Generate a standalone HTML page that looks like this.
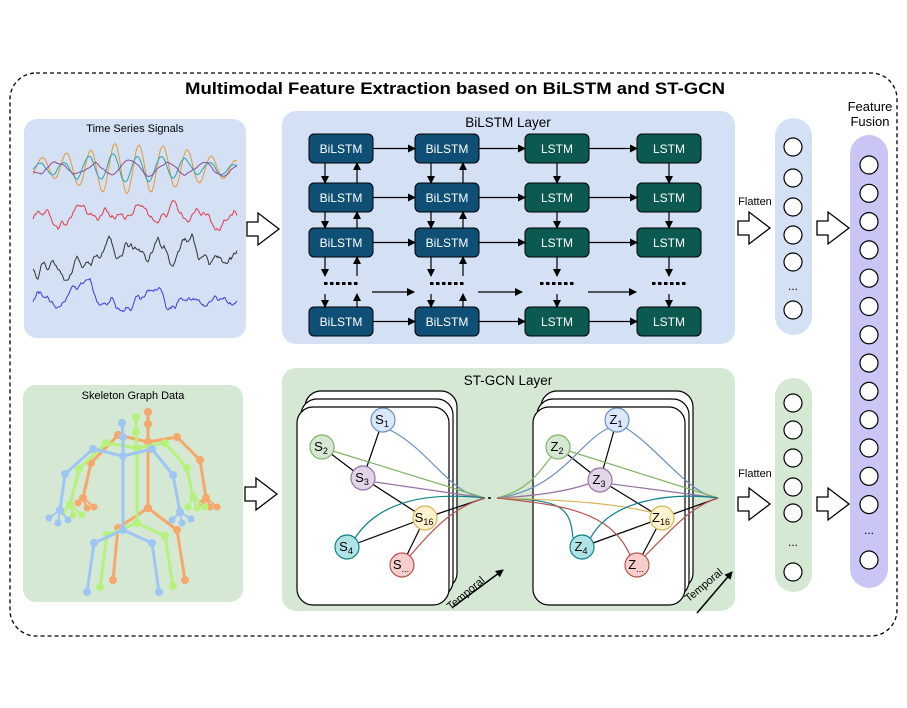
<!DOCTYPE html>
<html><head><meta charset="utf-8">
<style>
html,body{margin:0;padding:0;background:#fff;}
svg{display:block;font-family:"Liberation Sans",Arial,sans-serif;}
</style></head>
<body>
<svg id="s" width="907" height="708" viewBox="0 0 907 708" xmlns="http://www.w3.org/2000/svg">
<defs>
<marker id="ah" markerWidth="8" markerHeight="8" refX="7" refY="4" orient="auto" markerUnits="userSpaceOnUse">
<path d="M0,0 L8,4 L0,8 z" fill="#000"/></marker>
<g id="bigArrow"><path d="M0,9 L11,9 L11,0 L32,16 L11,32 L11,23 L0,23 z" fill="#fff" stroke="#000" stroke-width="1.3"/></g>
</defs>

<rect x="10" y="73" width="887" height="563" rx="26" fill="none" stroke="#000" stroke-width="1.3" stroke-dasharray="4,3"/>
<text x="455" y="94" font-size="17" font-weight="bold" text-anchor="middle" textLength="540" lengthAdjust="spacingAndGlyphs">Multimodal Feature Extraction based on BiLSTM and ST-GCN</text>

<rect x="24" y="119" width="222" height="219" rx="13" fill="#d4e1f5"/>
<text x="135" y="132" font-size="11" text-anchor="middle">Time Series Signals</text>
<g id="sig" fill="none" stroke-width="1"></g>

<rect x="23" y="385" width="220" height="217" rx="13" fill="#d5e8d4"/>
<text x="133" y="399" font-size="11" text-anchor="middle">Skeleton Graph Data</text>
<g id="skel"></g>

<use href="#bigArrow" x="247" y="213"/>
<use href="#bigArrow" x="245" y="478"/>
<use href="#bigArrow" x="738" y="212"/>
<use href="#bigArrow" x="738" y="488"/>
<use href="#bigArrow" x="817" y="212"/>
<use href="#bigArrow" x="817" y="488"/>
<text x="755" y="205" font-size="11" text-anchor="middle">Flatten</text>
<text x="755" y="477" font-size="11" text-anchor="middle">Flatten</text>

<rect x="282" y="111" width="453" height="233" rx="14" fill="#d4e1f5"/>
<text x="508" y="127" font-size="13.5" text-anchor="middle">BiLSTM Layer</text>
<g id="lstm"></g>

<rect x="282" y="368" width="453" height="243" rx="14" fill="#d5e8d4"/>
<text x="508" y="385" font-size="13.5" text-anchor="middle">ST-GCN Layer</text>
<g id="gcn"></g>

<rect x="775" y="118" width="37" height="217" rx="18.5" fill="#d4e1f5"/>
<rect x="775" y="378" width="37" height="214" rx="18.5" fill="#d5e8d4"/>
<rect x="850" y="135" width="38" height="453" rx="19" fill="#c9c6f6"/>
<text x="870" y="111" font-size="13" text-anchor="middle">Feature</text>
<text x="870" y="126" font-size="13" text-anchor="middle">Fusion</text>
<g id="cols" fill="#fff" stroke="#000" stroke-width="1.2"></g>
</svg>
<script>
var NS="http://www.w3.org/2000/svg";
function el(p,t,a,txt){var e=document.createElementNS(NS,t);for(var k in a)e.setAttribute(k,a[k]);if(txt!==undefined)e.textContent=txt;p.appendChild(e);return e;}
var S=document.getElementById('s');
var C=document.getElementById('cols');
[147,178,207,235,262,310].forEach(function(y){el(C,'circle',{cx:793,cy:y,r:9});});
[403,430,458,487,513,572].forEach(function(y){el(C,'circle',{cx:793,cy:y,r:9});});
for(var i=0;i<13;i++)el(C,'circle',{cx:869,cy:165+28.3*i,r:9});
el(C,'circle',{cx:869,cy:560,r:9});
el(S,'text',{x:793,y:290,'font-size':12,'text-anchor':'middle'},'...');
el(S,'text',{x:793,y:546,'font-size':12,'text-anchor':'middle'},'...');
el(S,'text',{x:869,y:534,'font-size':12,'text-anchor':'middle'},'...');
var seed=11;function rnd(){seed=(seed*16807)%2147483647;return seed/2147483647;}
var G=document.getElementById('sig');
function sig(col,base,amp,freq,noise,w,env){var d='',v=0,t=0;for(var x=33;x<=237;x+=1){t=t*0.85+(rnd()-0.5)*noise;v=v*0.7+t*0.3;var e=env?(0.35+0.65*Math.pow(Math.sin((x-33)/204*Math.PI),1.5)):1;var y=base+amp*e*Math.sin(x*freq+w)+v*4;d+=(x==33?'M':'L')+x+','+y.toFixed(1);}el(G,'path',{d:d,stroke:col});}
sig('#e8972e',168,24,0.26,0.6,0,1);sig('#2ba3b0',168,13,0.26,0.8,0.5,1);sig('#8e4a8e',168,6,0.17,1,1.5,0);
sig('#e23b4a',217,5,0.2,4,2,0);sig('#333',260,8,0.22,5,1,0);sig('#3a3ee0',300,6,0.18,4,3,0);
var L=document.getElementById('lstm');
var cols=[309,415,525,637],rows=[134,183,228,307],W=64,H=29;
function blk(x,y,t,c){el(L,'rect',{x:x,y:y,width:W,height:H,rx:5,fill:c,stroke:'#000','stroke-width':1});el(L,'text',{x:x+W/2,y:y+H/2+4.5,'font-size':12,fill:'#fff','text-anchor':'middle'},t);}
function ln(x1,y1,x2,y2){el(L,'line',{x1:x1,y1:y1,x2:x2,y2:y2,stroke:'#000','stroke-width':1.2,'marker-end':'url(#ah)'});}
rows.forEach(function(y){
 for(var c=0;c<4;c++)blk(cols[c],y,c<2?'BiLSTM':'LSTM',c<2?'#0f4f76':'#0c5a4f');
 for(var c=0;c<3;c++)ln(cols[c]+W,y+H/2,cols[c+1],y+H/2);
});
ln(372,292,414,292);ln(478,292,522,292);ln(588,292,636,292);
cols.forEach(function(x){for(var k=0;k<6;k++)el(L,'rect',{x:x+15+k*6,y:282,width:3.5,height:3,fill:'#000'});});
var segs=[[163,183],[212,228],[257,276],[294,307]];
[0,1].forEach(function(c){var dx=cols[c]+16,ux=cols[c]+48;segs.forEach(function(s){ln(dx,s[0],dx,s[1]);ln(ux,s[1],ux,s[0]);});});
[2,3].forEach(function(c){var x=cols[c]+W/2;segs.forEach(function(s){ln(x,s[0],x,s[1]);});});
var Gc=document.getElementById('gcn');
function card(x){for(var k=2;k>=0;k--)el(Gc,'rect',{x:x+k*4,y:407-k*8,width:152,height:198,rx:16,fill:'#fff',stroke:'#000','stroke-width':1.2});}
card(297);card(533);
var cl={b:['#dae8fc','#6c8ebf'],g:['#d5e8d4','#82b366'],p:['#e1d5e7','#9673a6'],y:['#fff2cc','#d6b656'],t:['#b0e3e6','#0e8088'],r:['#f8cecc','#b85450']};
function P(d,c,w){el(Gc,'path',{d:d,fill:'none',stroke:c,'stroke-width':w||1.2});}
var c1=485,cy=498;
P('M383,420 L363,478 M322,447 L363,478 M363,478 L425,518 M347,547 L425,518 M402,565 L425,518 M425,518 L'+c1+','+cy,'#000');
P('M390,430 C430,450 450,495 '+c1+','+cy,cl.b[1]);
P('M333,451 L'+c1+','+cy,cl.g[1]);
P('M375,482 L'+c1+','+cy,cl.p[1]);
P('M355,538 C380,500 430,492 '+c1+','+cy,cl.t[1]);
P('M410,556 C440,520 460,505 '+c1+','+cy,cl.r[1]);
el(Gc,'line',{x1:488,y1:498,x2:491,y2:498,stroke:'#000','stroke-width':1.5});
var o=497,c2=718;
P('M617,420 L600,480 M558,447 L600,480 M600,480 L662,518 M582,547 L662,518 M637,565 L662,518 M662,518 L'+c2+','+cy,'#000');
P('M'+o+','+cy+' C530,490 540,470 552,456',cl.g[1]);
P('M'+o+','+cy+' C560,490 580,440 609,428',cl.b[1]);
P('M'+o+','+cy+' C540,496 570,490 588,484',cl.p[1]);
P('M'+o+','+cy+' C560,500 570,505 573,538',cl.t[1]);
P('M'+o+','+cy+' C580,500 620,505 650,512',cl.y[1]);
P('M'+o+','+cy+' C560,505 610,510 630,555',cl.r[1]);
P('M626,428 C660,450 690,495 '+c2+','+cy,cl.b[1]);
P('M569,451 L'+c2+','+cy,cl.g[1]);
P('M612,484 L'+c2+','+cy,cl.p[1]);
P('M590,539 C610,500 670,492 '+c2+','+cy,cl.t[1]);
P('M645,556 C680,520 695,505 '+c2+','+cy,cl.r[1]);
function node(x,y,c,a,b){el(Gc,'circle',{cx:x,cy:y,r:12,fill:c[0],stroke:c[1],'stroke-width':1.2});var t=el(Gc,'text',{x:x-1,y:y+4,'font-size':13,'text-anchor':'middle'});t.textContent=a;var s=el(t,'tspan',{'font-size':9,dy:3});s.textContent=b;}
node(383,420,cl.b,'S','1');node(322,447,cl.g,'S','2');node(363,478,cl.p,'S','3');node(425,518,cl.y,'S','16');node(347,547,cl.t,'S','4');node(402,565,cl.r,'S','...');
node(617,420,cl.b,'Z','1');node(558,447,cl.g,'Z','2');node(600,480,cl.p,'Z','3');node(662,518,cl.y,'Z','16');node(582,547,cl.t,'Z','4');node(637,565,cl.r,'Z','...');
[[453,607,503,570,468,596],[697,613,732,572,706,588]].forEach(function(a){el(Gc,'line',{x1:a[0],y1:a[1],x2:a[2],y2:a[3],stroke:'#000','stroke-width':1.5,'marker-end':'url(#ah)'});el(Gc,'text',{x:a[4],y:a[5],'font-size':11,'text-anchor':'middle',transform:'rotate(-40 '+a[4]+' '+a[5]+')'},'Temporal');});
var K=document.getElementById('skel');
function sk(c,j){var E=[['h','n'],['n','c'],['c','hp'],['c','ls'],['ls','le'],['le','lw'],['c','rs'],['rs','re'],['re','rw'],['hp','lh'],['lh','lf'],['hp','rh'],['rh','rf']];
E.forEach(function(e){el(K,'line',{x1:j[e[0]][0],y1:j[e[0]][1],x2:j[e[1]][0],y2:j[e[1]][1],stroke:c,'stroke-width':3});});
j.lfg.forEach(function(f){el(K,'line',{x1:j.lw[0],y1:j.lw[1],x2:f[0],y2:f[1],stroke:c,'stroke-width':2});el(K,'circle',{cx:f[0],cy:f[1],r:3.5,fill:c});});
j.rfg.forEach(function(f){el(K,'line',{x1:j.rw[0],y1:j.rw[1],x2:f[0],y2:f[1],stroke:c,'stroke-width':2});el(K,'circle',{cx:f[0],cy:f[1],r:3.5,fill:c});});
for(var k in j){if(k=='lfg'||k=='rfg')continue;el(K,'circle',{cx:j[k][0],cy:j[k][1],r:4,fill:c});}}
sk('#f6a76c',{h:[148,412],n:[148,424],c:[148,442],hp:[148,508],ls:[118,435],le:[91,463],lw:[83,498],rs:[177,437],re:[200,460],rw:[206,498],lh:[118,528],lf:[113,580],rh:[177,530],rf:[185,580],lfg:[[78,503],[87,508],[94,507]],rfg:[[202,503],[210,507],[217,507]]});
sk('#b4f27c',{h:[136,417],n:[136,432],c:[137,448],hp:[137,523],ls:[106,443],le:[79,469],lw:[70,505],rs:[165,443],re:[187,468],rw:[193,497],lh:[107,535],lf:[100,587],rh:[165,536],rf:[173,586],lfg:[[63,512],[73,515],[82,515]],rfg:[[188,507],[197,508],[205,507]]});
sk('#9fc5f5',{h:[122,423],n:[123,437],c:[123,456],hp:[123,530],ls:[93,449],le:[65,474],lw:[60,510],rs:[152,449],re:[173,475],rw:[180,512],lh:[94,543],lf:[87,592],rh:[152,543],rf:[159,592],lfg:[[49,518],[58,523],[68,520]],rfg:[[172,520],[182,523],[191,519]]});
</script>
</body></html>
